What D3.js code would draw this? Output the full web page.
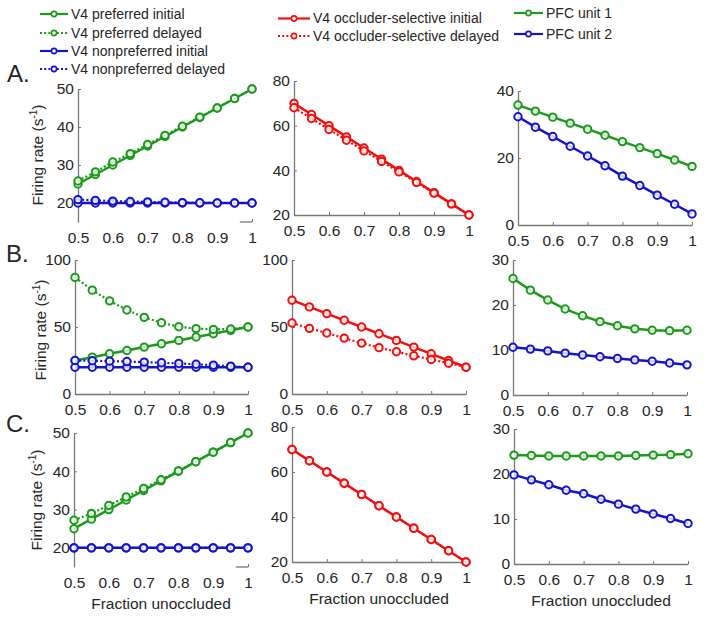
<!DOCTYPE html>
<html><head><meta charset="utf-8">
<script src="https://cdn.jsdelivr.net/npm/d3@7/dist/d3.min.js"></script>
<style>
body{margin:0;background:#fff;}
text{font-family:Arial,"Liberation Sans",sans-serif;fill:#262626;}
</style>
</head><body>
<svg id="chart" width="704" height="617"></svg>
<script>
// ---------- data ----------
const fractions = [0.5,0.55,0.6,0.65,0.7,0.75,0.8,0.85,0.9,0.95,1];
const xTickValues = [0.5,0.6,0.7,0.8,0.9,1];
const xTickLabels = ["0.5","0.6","0.7","0.8","0.9","1"];

// Row A
const aPrefInitial    = [25,27.5,30,32.5,35,37.5,40,42.5,45,47.5,50];
const aPrefDelayed    = [25.8,28.2,30.8,33.0,35.4,37.8,40.2,42.6,45,47.5,50];
const aNonprefInitial = [20,20,20,20,20,20,20,20,20,20,20];
const aNonprefDelayed = [20.9,20.7,20.5,20.4,20.3,20.2,20.1,20.05,20,20,20];
const aOccInitial     = [70,65,60,55,50,45,40,35,30,25,20];
const aOccDelayed     = [68,63.2,58.3,53.5,48.7,44,39.3,34.6,29.8,25,20];
const aPfc1           = [35.8,34.0,32.2,30.4,28.6,26.8,24.9,23.1,21.3,19.4,17.5];
const aPfc2           = [32.3,29.2,26.4,23.5,20.6,17.7,14.6,11.8,8.9,6.2,3.3];

// Row B
const bPrefInitial    = [25,27.5,30,32.5,35,37.5,40,42.5,45,47.5,50];
const bPrefDelayed    = [87,77.5,69.5,62.7,57.2,53.2,50.2,48.8,48.2,48.5,50];
const bNonprefInitial = [20,20,20,20,20,20,20,20,20,20,20];
const bNonprefDelayed = [25,24.8,24.5,24.2,23.8,23.3,22.8,22.2,21.5,20.8,20];
const bOccInitial     = [70,65,60,55,50,45,40,35,30,25,20];
const bOccDelayed     = [53,49,45.5,41.7,38,34.6,31.5,28.5,25.8,23,20];
const bPfc1           = [25.9,23.3,21.1,19.1,17.6,16.3,15.4,14.7,14.4,14.3,14.4];
const bPfc2           = [10.6,10.2,9.8,9.3,8.9,8.5,8.1,7.8,7.5,7.1,6.7];

// Row C
const cPrefInitial    = [25,27.5,30,32.5,35,37.5,40,42.5,45,47.5,50];
const cPrefDelayed    = [27.2,29.0,31.1,33.3,35.5,37.8,40.1,42.5,45,47.5,50];
const cNonprefInitial = [20,20,20,20,20,20,20,20,20,20,20];
const cNonprefDelayed = [20,20,20,20,20,20,20,20,20,20,20];
const cOccInitial     = [70,65,60,55,50,45,40,35,30,25,20];
const cOccDelayed     = [70,65,60,55,50,45,40,35,30,25,20];
const cPfc1           = [24.2,24.1,24.0,24.0,24.0,24.0,24.0,24.1,24.2,24.3,24.5];
const cPfc2           = [19.8,18.7,17.6,16.4,15.6,14.4,13.3,12.2,11.1,10.1,9.0];

// y axis ticks per panel
const yTicksA1 = [20,30,40,50], yTicksA2 = [20,40,60,80], yTicksA3 = [0,20,40];
const yTicksB1 = [0,50,100],    yTicksB2 = [0,50,100],    yTicksB3 = [0,10,20,30];
const yTicksC1 = [20,30,40,50], yTicksC2 = [20,40,60,80], yTicksC3 = [0,10,20,30];

// legend labels
const legend1Labels = ["V4 preferred initial","V4 preferred delayed","V4 nonpreferred initial","V4 nonpreferred delayed"];
const legend2Labels = ["V4 occluder-selective initial","V4 occluder-selective delayed"];
const legend3Labels = ["PFC unit 1","PFC unit 2"];
const rowLetters = ["A.","B.","C."];
const xLabel = "Fraction unoccluded";

// ---------- styles ----------
const GREEN = "#1c9a1c", BLUE = "#1414c8", RED = "#f01010";
const AXIS = "#777777";
const solid = {dash:null}, dotted = {dash:"2,2.2"};

const svg = d3.select("#chart");

function drawPanel(p) {
  const g = svg.append("g");
  const x = d3.scaleLinear().domain([0.5,1]).range([p.left,p.right]);
  const y = d3.scaleLinear().domain(p.yDomain).range([p.bottom,p.top]);

  const ya = g.append("g").attr("transform",`translate(${p.left},0)`)
    .call(d3.axisLeft(y).tickValues(p.yTicks).tickSize(-3).tickSizeOuter(0).tickPadding(4).tickFormat(d3.format("d")));
  const xa = g.append("g").attr("transform",`translate(0,${p.bottom})`)
    .call(d3.axisBottom(x).tickValues(xTickValues).tickSize(-3).tickSizeOuter(0).tickPadding(10)
      .tickFormat((d,i)=>xTickLabels[i]));
  [ya,xa].forEach(a=>{
    a.selectAll("path.domain").attr("stroke",AXIS).attr("stroke-width",1.3);
    a.selectAll(".tick line").attr("stroke",AXIS);
    a.selectAll(".tick text").attr("fill","#262626").style("font-size","15.5px")
      .style("font-family","Arial, 'Liberation Sans', sans-serif");
  });
  if (p.hideXLine) {
    // only the right end of the x axis line is visible in the reference
    xa.select("path.domain").remove();
    xa.selectAll(".tick line").filter(d=>d!==1).remove();
    g.append("line").attr("x1",x(0.965)).attr("x2",x(1)).attr("y1",p.bottom).attr("y2",p.bottom)
      .attr("stroke",AXIS).attr("stroke-width",1.3);
  }

  const line = d3.line().x((d,i)=>x(fractions[i])).y(d=>y(d));
  p.series.forEach(s=>{
    g.append("path").datum(s.values).attr("d",line).attr("fill","none")
      .attr("stroke",s.color).attr("stroke-width",s.style.dash?2.2:2.5)
      .attr("stroke-dasharray",s.style.dash);
    g.selectAll(null).data(s.values).enter().append("circle")
      .attr("cx",(d,i)=>x(fractions[i])).attr("cy",d=>y(d)).attr("r",3.7)
      .attr("fill","#fff").attr("fill-opacity",0.8).attr("stroke",s.color).attr("stroke-width",2);
  });

  if (p.xTitle) {
    g.append("text").attr("x",(p.left+p.right)/2).attr("y",p.bottom+42)
      .attr("text-anchor","middle").style("font-size","15.5px").text(xLabel);
  }
}

const panels = [
  {left:78,right:252,top:89,bottom:222,yDomain:[15,50],yTicks:yTicksA1,hideXLine:true,
   series:[{values:aPrefInitial,color:GREEN,style:solid},{values:aPrefDelayed,color:GREEN,style:dotted},
           {values:aNonprefInitial,color:BLUE,style:solid},{values:aNonprefDelayed,color:BLUE,style:dotted}]},
  {left:294,right:469,top:81,bottom:215,yDomain:[20,80],yTicks:yTicksA2,
   series:[{values:aOccInitial,color:RED,style:solid},{values:aOccDelayed,color:RED,style:dotted}]},
  {left:518,right:692,top:91,bottom:225,yDomain:[0,40],yTicks:yTicksA3,
   series:[{values:aPfc1,color:GREEN,style:solid},{values:aPfc2,color:BLUE,style:solid}]},

  {left:75,right:248,top:260,bottom:394,yDomain:[0,100],yTicks:yTicksB1,
   series:[{values:bPrefInitial,color:GREEN,style:solid},{values:bPrefDelayed,color:GREEN,style:dotted},
           {values:bNonprefInitial,color:BLUE,style:solid},{values:bNonprefDelayed,color:BLUE,style:dotted}]},
  {left:292,right:466,top:260,bottom:394,yDomain:[0,100],yTicks:yTicksB2,
   series:[{values:bOccInitial,color:RED,style:solid},{values:bOccDelayed,color:RED,style:dotted}]},
  {left:513,right:687,top:260,bottom:395,yDomain:[0,30],yTicks:yTicksB3,
   series:[{values:bPfc1,color:GREEN,style:solid},{values:bPfc2,color:BLUE,style:solid}]},

  {left:74,right:248,top:433,bottom:567,yDomain:[15,50],yTicks:yTicksC1,hideXLine:true,xTitle:true,
   series:[{values:cPrefInitial,color:GREEN,style:solid},{values:cPrefDelayed,color:GREEN,style:dotted},
           {values:cNonprefInitial,color:BLUE,style:solid},{values:cNonprefDelayed,color:BLUE,style:dotted}]},
  {left:292,right:466,top:427,bottom:562,yDomain:[20,80],yTicks:yTicksC2,xTitle:true,
   series:[{values:cOccInitial,color:RED,style:solid},{values:cOccDelayed,color:RED,style:dotted}]},
  {left:514,right:688,top:429,bottom:564,yDomain:[0,30],yTicks:yTicksC3,xTitle:true,
   series:[{values:cPfc1,color:GREEN,style:solid},{values:cPfc2,color:BLUE,style:solid}]}
];
panels.forEach(drawPanel);

// y-axis titles
[{x:38,y:155},{x:41,y:330},{x:37,y:500}].forEach(pos=>{
  const t = svg.append("text").attr("transform",`translate(${pos.x+5},${pos.y}) rotate(-90)`)
    .attr("text-anchor","middle").style("font-size","15.5px");
  t.append("tspan").text("Firing rate (s");
  t.append("tspan").attr("dy",-6).style("font-size","10px").text("-1");
  t.append("tspan").attr("dy",6).text(")");
});

// row letters
[{x:7,y:82},{x:6,y:262},{x:6,y:432}].forEach((pos,i)=>{
  svg.append("text").attr("x",pos.x).attr("y",pos.y).style("font-size","24px").text(rowLetters[i]);
});

// legends
function legend(labels, styles, x0, x1, rows) {
  labels.forEach((lab,i)=>{
    const yy = rows[i];
    const st = styles[i];
    svg.append("line").attr("x1",x0).attr("x2",x1).attr("y1",yy).attr("y2",yy)
      .attr("stroke",st.color).attr("stroke-width",st.style.dash?1.8:2.2)
      .attr("stroke-dasharray",st.style.dash);
    svg.append("circle").attr("cx",(x0+x1)/2).attr("cy",yy).attr("r",2.6)
      .attr("fill","#fff").attr("stroke",st.color).attr("stroke-width",1.6);
    svg.append("text").attr("x",x1+3).attr("y",yy).attr("dy","0.35em")
      .style("font-size","14px").text(lab);
  });
}
legend(legend1Labels,
  [{color:GREEN,style:solid},{color:GREEN,style:dotted},{color:BLUE,style:solid},{color:BLUE,style:dotted}],
  40,68,[14,33,51,69]);
legend(legend2Labels,[{color:RED,style:solid},{color:RED,style:dotted}],278,310,[18.5,36]);
legend(legend3Labels,[{color:GREEN,style:solid},{color:BLUE,style:solid}],514,543,[13,34]);
</script>
</body></html>
